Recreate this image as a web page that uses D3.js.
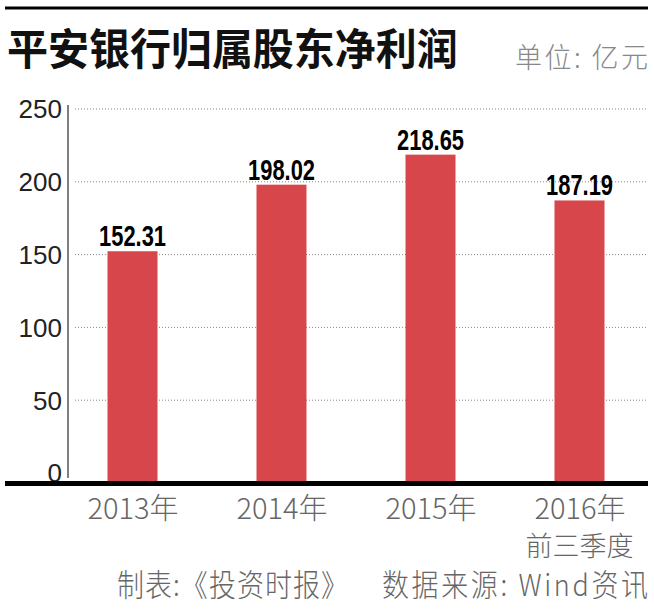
<!DOCTYPE html>
<html>
<head>
<meta charset="utf-8">
<script src="https://cdn.jsdelivr.net/npm/d3@7"></script>
<style>
  body { margin: 0; background: #fff; }
  svg { display: block; }
</style>
</head>
<body>
<svg id="canvas" width="654" height="609"></svg>
<script>
"use strict"

// chart data
let years = ["2013年", "2014年", "2015年", "2016年"];
let subLabels = ["", "", "", "前三季度"];
let profits = [152.31, 198.02, 218.65, 187.19];
let tickValues = [0, 50, 100, 150, 200, 250];

let cjk = "'Noto Sans CJK SC', 'Noto Sans', sans-serif";
let drawing = d3.select("#canvas");

// scales
let x = d3.scalePoint()
    .domain(years)
    .range([58, 654])
    .padding(0.5);

let y = d3.scaleLinear()
    .domain([0, 250])
    .range([473, 109]);

let barWidth = 50;
let baseY = 481;

/* top rule */
drawing.append("line")
    .attr("x1", 5).attr("x2", 648)
    .attr("y1", 8).attr("y2", 8)
    .attr("stroke", "black")
    .attr("stroke-width", 3);

/* title and unit (source font is a bit taller than wide) */
drawing.append("text")
    .attr("transform", "translate(7,65) scale(1,1.05)")
    .attr("font-family", cjk)
    .attr("font-weight", "bold")
    .attr("font-size", 41)
    .attr("fill", "#111")
    .text("平安银行归属股东净利润");

drawing.append("text")
    .attr("transform", "translate(515,68) scale(1,1.05)")
    .attr("font-family", cjk)
    .attr("font-weight", 300)
    .attr("font-size", 27)
    .attr("fill", "#888")
    .attr("textLength", 133)
    .attr("lengthAdjust", "spacing")
    .text("单位: 亿元");

/* dotted gridlines */
drawing.append("g")
    .selectAll("line")
    .data(tickValues.filter(d => d > 0))
    .join("line")
    .attr("x1", 75).attr("x2", 648)
    .attr("y1", d => y(d)).attr("y2", d => y(d))
    .attr("stroke", "#888")
    .attr("stroke-width", 1)
    .attr("stroke-dasharray", "1,2");

/* y axis */
let yAxis = drawing.append("g")
    .attr("transform", "translate(68,0)")
    .call(d3.axisLeft(y).tickValues(tickValues).tickSize(0).tickPadding(6));

yAxis.select(".domain")
    .attr("d", "M0,105V478")
    .attr("stroke", "#555")
    .attr("stroke-width", 1.5);

yAxis.selectAll("text")
    .attr("font-family", "'Liberation Sans', Arial, sans-serif")
    .attr("font-size", 26)
    .attr("fill", "#222")
    .attr("dy", "0.34em");

/* bars */
drawing.append("g")
    .selectAll("rect")
    .data(profits)
    .join("rect")
    .attr("x", (d, i) => x(years[i]) - barWidth / 2)
    .attr("y", d => y(d))
    .attr("width", barWidth)
    .attr("height", d => baseY - y(d))
    .attr("fill", "#d7464b");

/* value labels, squeezed to look condensed */
drawing.append("g")
    .selectAll("text")
    .data(profits)
    .join("text")
    .attr("transform", (d, i) => "translate(" + x(years[i]) + "," + (y(d) - 5) + ") scale(0.73,1)")
    .attr("text-anchor", "middle")
    .attr("font-family", "'Liberation Sans', Arial, sans-serif")
    .attr("font-weight", "bold")
    .attr("font-size", 30)
    .attr("fill", "#000")
    .text(d => d.toFixed(2));

/* thick baseline */
drawing.append("line")
    .attr("x1", 5).attr("x2", 648)
    .attr("y1", baseY + 2.5).attr("y2", baseY + 2.5)
    .attr("stroke", "black")
    .attr("stroke-width", 5);

/* category labels */
let xAxis = drawing.append("g")
    .attr("transform", "translate(0," + baseY + ")")
    .call(d3.axisBottom(x).tickSize(0).tickPadding(0));

xAxis.select(".domain").remove();

xAxis.selectAll("text")
    .attr("y", 38)
    .attr("dy", null)
    .attr("font-family", cjk)
    .attr("font-weight", 300)
    .attr("font-size", 29)
    .attr("fill", "#666");

drawing.append("g")
    .selectAll("text")
    .data(subLabels)
    .join("text")
    .attr("x", (d, i) => x(years[i]))
    .attr("y", 556)
    .attr("text-anchor", "middle")
    .attr("font-family", cjk)
    .attr("font-weight", 300)
    .attr("font-size", 27)
    .attr("fill", "#666")
    .text(d => d);

/* source footer */
drawing.append("text")
    .attr("transform", "translate(117,596) scale(1,1.12)")
    .attr("font-family", cjk)
    .attr("font-weight", 300)
    .attr("font-size", 27)
    .attr("fill", "#666")
    .attr("textLength", 231)
    .attr("lengthAdjust", "spacing")
    .text("制表:《投资时报》");

drawing.append("text")
    .attr("transform", "translate(382,596) scale(1,1.12)")
    .attr("font-family", cjk)
    .attr("font-weight", 300)
    .attr("font-size", 27)
    .attr("fill", "#666")
    .attr("textLength", 266)
    .attr("lengthAdjust", "spacing")
    .text("数据来源: Wind资讯");
</script>
</body>
</html>
